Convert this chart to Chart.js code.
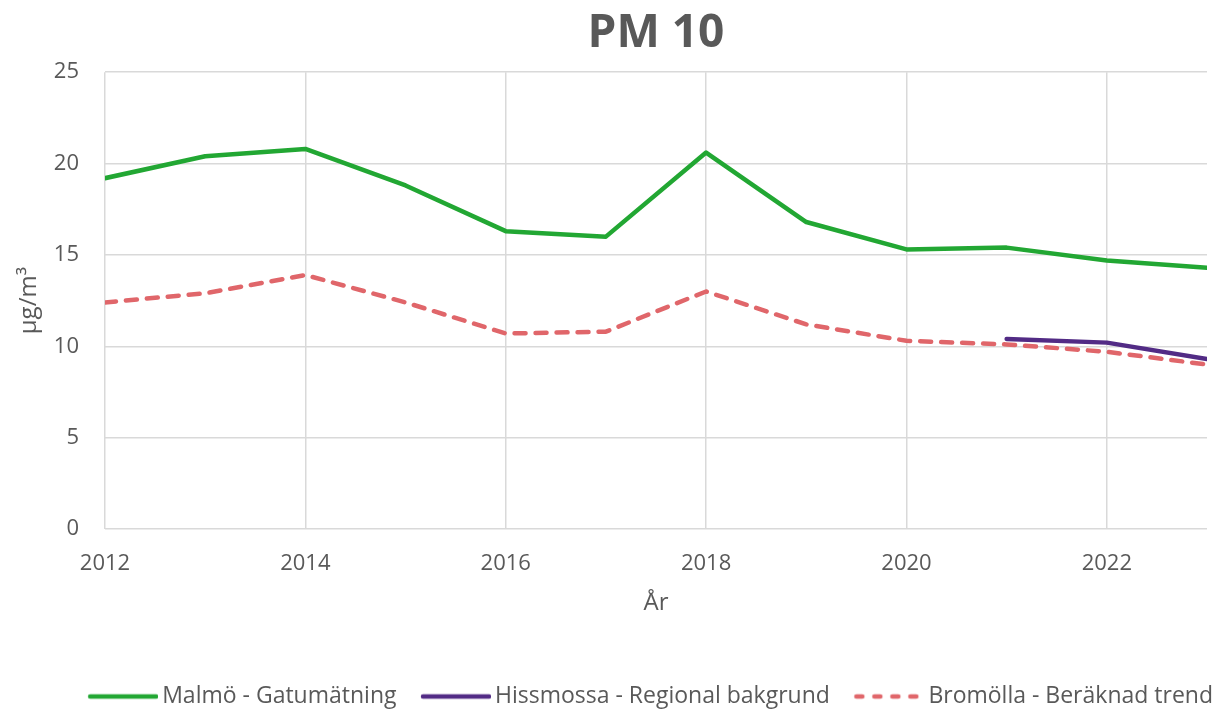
<!DOCTYPE html>
<html>
<head>
<meta charset="utf-8">
<script src="https://cdn.jsdelivr.net/npm/chart.js@4"></script>
<style>
  body { margin: 0; background: #fff; }
  #wrap { width: 1218px; height: 711px; position: relative; }
</style>
</head>
<body>
<div id="wrap"><canvas id="pmChart"></canvas></div>
<script>
// Years on the x axis
const years = [2012, 2013, 2014, 2015, 2016, 2017, 2018, 2019, 2020, 2021, 2022, 2023];

// Series values (µg/m³)
const malmo = [19.2, 20.4, 20.8, 18.8, 16.3, 16.0, 20.6, 16.8, 15.3, 15.4, 14.7, 14.3];
const hissmossa = [null, null, null, null, null, null, null, null, null, 10.4, 10.2, 9.3];
const bromolla = [12.4, 12.9, 13.9, 12.4, 10.7, 10.8, 13.0, 11.2, 10.3, 10.1, 9.7, 9.0];

const yTicks = [0, 5, 10, 15, 20, 25];

const textColor = '#595959';
const gridColor = '#d9d9d9';
const fontFamily = '"Open Sans", sans-serif';

const colMalmo = '#22a733';
const colHiss = '#522b85';
const colBrom = '#e0666a';
const dashBrom = [11, 10];

// turn a value list into {x, y} points
function toPoints(values) {
    return years.map((yr, i) => ({ x: yr, y: values[i] }));
}

// little canvas used as legend symbol (a line, maybe dashed)
function legendLine(color, dash) {
    const c = document.createElement('canvas');
    c.width = 78;
    c.height = 8;
    const g = c.getContext('2d');
    g.strokeStyle = color;
    g.lineWidth = 4.5;
    g.lineCap = 'round';
    g.setLineDash(dash || []);
    g.beginPath();
    g.moveTo(10, 4);
    g.lineTo(76, 4);
    g.stroke();
    return c;
}

// move the title over the plot area and nudge the legend
const placement = {
    id: 'placement',
    afterLayout(chart) {
        const a = chart.chartArea;
        if (chart.titleBlock) {
            chart.titleBlock.left = a.left;
            chart.titleBlock.right = a.right;
        }
        const lg = chart.legend;
        if (lg) {
            lg.left += 30;
            lg.right += 30;
            lg.top += 7;
            lg.bottom += 7;
        }
    }
};

const ctx = document.getElementById('pmChart').getContext('2d');
const pmChart = new Chart(ctx, {
    type: 'line',
    data: {
        datasets: [{
            label: 'Malmö - Gatumätning',
            data: toPoints(malmo),
            borderColor: colMalmo,
            backgroundColor: colMalmo,
            borderWidth: 4.5,
            pointRadius: 0,
            pointStyle: legendLine(colMalmo),
            tension: 0,
            borderCapStyle: 'round',
            borderJoinStyle: 'round'
        }, {
            label: 'Hissmossa - Regional bakgrund',
            data: toPoints(hissmossa),
            borderColor: colHiss,
            backgroundColor: colHiss,
            borderWidth: 4.5,
            pointRadius: 0,
            pointStyle: legendLine(colHiss),
            tension: 0,
            spanGaps: false,
            borderCapStyle: 'round',
            borderJoinStyle: 'round'
        }, {
            label: 'Bromölla - Beräknad trend',
            data: toPoints(bromolla),
            borderColor: colBrom,
            backgroundColor: colBrom,
            borderWidth: 4.5,
            borderDash: dashBrom,
            pointRadius: 0,
            pointStyle: legendLine(colBrom, [6, 12]),
            tension: 0,
            borderCapStyle: 'round',
            borderJoinStyle: 'round'
        }]
    },
    options: {
        responsive: true,
        maintainAspectRatio: false,
        animation: false,
        layout: { padding: { left: 15, right: 11, top: 0, bottom: 0 } },
        plugins: {
            title: {
                display: true,
                text: 'PM 10',
                color: textColor,
                font: { family: fontFamily, size: 46, weight: 'bold' },
                padding: { top: 6, bottom: 11 }
            },
            legend: {
                position: 'bottom',
                align: 'end',
                labels: {
                    usePointStyle: true,
                    pointStyleWidth: 63,
                    boxHeight: 20,
                    padding: 24,
                    color: textColor,
                    font: { family: fontFamily, size: 23 }
                }
            },
            tooltip: { enabled: false }
        },
        scales: {
            x: {
                type: 'linear',
                min: years[0],
                max: years[years.length - 1],
                grid: { color: gridColor, lineWidth: 1.5, drawTicks: false },
                border: { display: false },
                afterFit: s => { s.height = 125; },
                ticks: {
                    stepSize: 2,
                    includeBounds: false,
                    color: textColor,
                    padding: 22,
                    font: { family: fontFamily, size: 22 },
                    callback: v => String(v)
                },
                title: {
                    display: true,
                    text: 'År',
                    color: textColor,
                    font: { family: fontFamily, size: 24 },
                    padding: { top: 4, bottom: 36 }
                }
            },
            y: {
                min: yTicks[0],
                max: yTicks[yTicks.length - 1],
                grid: { color: gridColor, lineWidth: 1.5, drawTicks: false },
                border: { display: false },
                afterFit: s => { s.width = 90; },
                ticks: {
                    stepSize: 5,
                    color: textColor,
                    padding: 26,
                    font: { family: fontFamily, size: 22 }
                },
                title: {
                    display: true,
                    text: 'µg/m³',
                    color: textColor,
                    font: { family: fontFamily, size: 24 },
                    padding: { top: 0, bottom: 6 }
                }
            }
        }
    },
    plugins: [placement]
});
</script>
</body>
</html>
